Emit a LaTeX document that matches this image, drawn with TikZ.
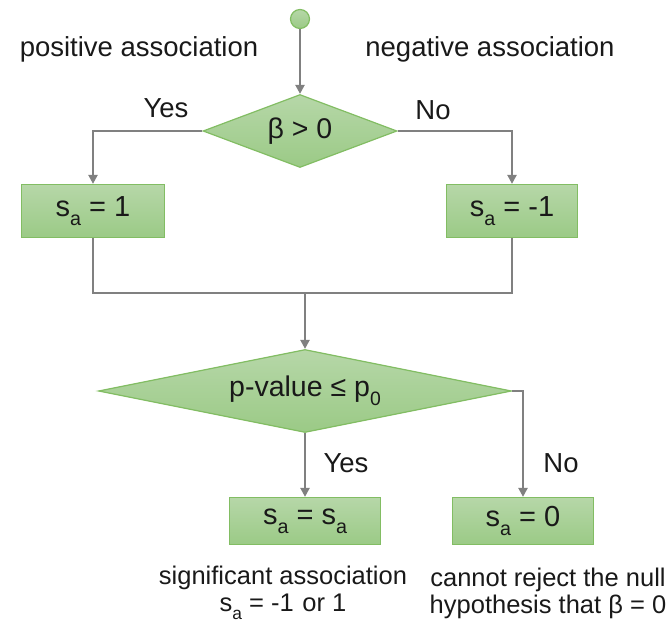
\documentclass[tikz,border=0pt]{standalone}
\usepackage{fontspec}
\setmainfont{Liberation Sans}
\usetikzlibrary{shapes.geometric,arrows.meta}
\definecolor{gtop}{HTML}{B6D7A8}
\definecolor{gbot}{HTML}{9BCA86}
\definecolor{gedge}{HTML}{82BD63}
\definecolor{lgray}{HTML}{808080}
\newcommand\lowsub[1]{\raisebox{-0.32em}{\fontsize{0.68em}{0.7em}\selectfont #1}}
\begin{document}
\begin{tikzpicture}[x=1pt,y=-1pt,
  every node/.style={font=\fontsize{27.5}{31}\selectfont, text=black!90},
  greenfill/.style={draw=gedge, line width=1.2pt, top color=gtop, bottom color=gbot},
  procbox/.style={greenfill, rectangle, inner sep=0pt, font=\fontsize{29}{32}\selectfont},
  decision/.style={greenfill, diamond, inner sep=0pt, font=\fontsize{28.5}{32}\selectfont},
  conn/.style={draw=lgray, line width=2.2pt},
  arr/.style={conn, -{Triangle[length=9pt,width=9pt]}},
  lbl/.style={inner sep=0pt, anchor=center},
  note/.style={inner sep=0pt, align=center, font=\fontsize{25.5}{27}\selectfont}]
\useasboundingbox (0,0) rectangle (668,626);
\node[greenfill, circle, minimum size=19pt, inner sep=0pt] (start) at (300,19) {};
\node[decision, minimum width=194pt, minimum height=73pt, shape aspect=2.66] (d1) at (300,131) {β > 0};
\node[procbox, minimum width=143pt, minimum height=53pt] (b1) at (93,211) {s\lowsub{a} = 1};
\node[procbox, minimum width=131pt, minimum height=53pt] (b2) at (512,211) {s\lowsub{a} = -1};
\node[decision, minimum width=413pt, minimum height=83pt, shape aspect=5] (d2) at (305,391) {p-value ≤ p\lowsub{0}};
\node[procbox, minimum width=151pt, minimum height=47pt] (b3) at (305,521) {s\lowsub{a} = s\lowsub{a}};
\node[procbox, minimum width=141pt, minimum height=47pt] (b4) at (523,521) {s\lowsub{a} = 0};

\node[lbl] (pos) at (139,49) {positive association};
\node[lbl] (neg) at (490,49) {negative association};
\node[lbl] (yes1) at (166,108) {Yes};
\node[lbl] (no1) at (433,110) {No};
\node[lbl] (yes2) at (346,463) {Yes};
\node[lbl] (no2) at (561,463) {No};
\node[note] (n1) at (283,593) {significant association\\s\lowsub{a} = -1\,\,or 1};
\node[note] (n2) at (548,593) {cannot reject the null\\hypothesis that β = 0};

\coordinate (j) at (305,293);
\draw[arr] (start) -- (d1.north);
\draw[arr] (d1.west) -| (b1.north);
\draw[arr] (d1.east) -| (b2.north);
\draw[conn] (b1.south) |- (j);
\draw[conn] (b2.south) |- (j);
\draw[arr] (j) -- (d2.north);
\draw[arr] (d2.south) -- (b3.north);
\draw[arr] (d2.east) -| (b4.north);
\end{tikzpicture}
\end{document}
